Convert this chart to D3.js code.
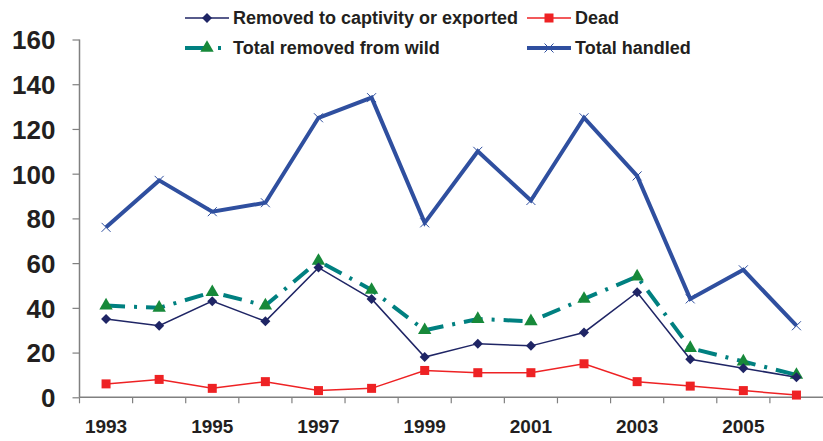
<!DOCTYPE html>
<html><head><meta charset="utf-8">
<script src="https://cdn.jsdelivr.net/npm/d3@7"></script>
<style>html,body{margin:0;padding:0;background:#fff;}svg{display:block;font-family:Arial,"Liberation Sans",sans-serif;}</style>
</head><body>
<svg id="c" width="823" height="441"></svg>
<script>
const years = [1993,1994,1995,1996,1997,1998,1999,2000,2001,2002,2003,2004,2005,2006];
const yearLabels = [1993,1995,1997,1999,2001,2003,2005];
const yTicks = [0,20,40,60,80,100,120,140,160];
const removedCaptivity = [35,32,43,34,58,44,18,24,23,29,47,17,13,9];
const dead = [6,8,4,7,3,4,12,11,11,15,7,5,3,1];
const totalRemovedWild = [41,40,47,41,61,48,30,35,34,44,54,22,16,10];
const totalHandled = [76,97,83,87,125,134,78,110,88,125,99,44,57,32];

const svg = d3.select("#c");
const pLeft = 79.5, pRight = 823, pTop = 39.5, pBottom = 397.3;
const x = d3.scaleBand().domain(years).range([pLeft, pRight]);
const y = d3.scaleLinear().domain([0,160]).range([pBottom, pTop]);
const cx = d => x(d) + x.bandwidth()/2;

// Y axis
const yAxis = d3.axisLeft(y).tickValues(yTicks).tickSize(7).tickPadding(17);
const gy = svg.append("g").attr("transform", `translate(${pLeft},0)`).call(yAxis);
gy.select(".domain").attr("stroke", "#808080").attr("stroke-width", 1.5).attr("d", `M0,${pTop}V${pBottom}`);
gy.selectAll(".tick line").attr("stroke", "#808080").attr("stroke-width", 1.2);
gy.selectAll(".tick text").attr("font-size", 26).attr("font-weight", "bold").attr("fill", "#231f20")
  .attr("font-family", "Arial, 'Liberation Sans', sans-serif").attr("dy", "0.36em");

// X axis
const gx = svg.append("g").attr("transform", `translate(0,${pBottom})`);
gx.append("line").attr("x1", pLeft).attr("x2", pRight).attr("y1", 0).attr("y2", 0).attr("stroke", "#808080").attr("stroke-width", 1.5);
gx.selectAll("line.tk").data(years).join("line").attr("class","tk")
  .attr("x1", d => x(d)).attr("x2", d => x(d)).attr("y1", 0).attr("y2", 6)
  .attr("stroke", "#808080").attr("stroke-width", 1.2);
gx.selectAll("text").data(yearLabels).join("text")
  .attr("x", d => cx(d)).attr("y", 36).attr("text-anchor", "middle")
  .attr("font-size", 19).attr("font-weight", "bold").attr("fill", "#231f20").text(d => d);

const line = d3.line().x((d,i) => cx(years[i])).y(d => y(d));

// Series
const series = [
  {name:"Total handled", data: totalHandled, color:"#2f4f9f", width:4, dash:null, marker:"x"},
  {name:"Total removed from wild", data: totalRemovedWild, color:"#008080", width:4, dash:"19,9,3,9", marker:"tri", mcolor:"#17893a"},
  {name:"Removed to captivity or exported", data: removedCaptivity, color:"#1f2565", width:1.5, dash:null, marker:"dia"},
  {name:"Dead", data: dead, color:"#ee2224", width:1.5, dash:null, marker:"sq"}
];

function drawMarker(g, type, px, py, s) {
  if (type === "x") {
    g.append("path").attr("d", `M${px-4.5},${py-4.5}L${px+4.5},${py+4.5}M${px-4.5},${py+4.5}L${px+4.5},${py-4.5}`)
      .attr("stroke", s.color).attr("stroke-width", 1).attr("fill", "none");
  } else if (type === "tri") {
    g.append("path").attr("d", d3.symbol().type(d3.symbolTriangle).size(78)()).attr("transform", `translate(${px},${py})`)
      .attr("fill", s.mcolor);
  } else if (type === "dia") {
    g.append("path").attr("d", `M${px},${py-5}L${px+5},${py}L${px},${py+5}L${px-5},${py}Z`).attr("fill", s.color);
  } else if (type === "sq") {
    g.append("rect").attr("x", px-4.5).attr("y", py-4.5).attr("width", 9).attr("height", 9).attr("fill", s.color);
  }
}

series.forEach(s => {
  const g = svg.append("g");
  g.append("path").datum(s.data).attr("d", line).attr("fill", "none")
    .attr("stroke", s.color).attr("stroke-width", s.width)
    .attr("stroke-dasharray", s.dash).attr("stroke-linejoin", "miter");
  s.data.forEach((v,i) => drawMarker(g, s.marker, cx(years[i]), y(v), s));
});

// Legend
const legendItems = [
  {s: series[2], lx: 185, ly: 18},
  {s: series[3], lx: 527, ly: 18},
  {s: series[1], lx: 185, ly: 48},
  {s: series[0], lx: 527, ly: 48}
];
legendItems.forEach(it => {
  const g = svg.append("g");
  const s = it.s;
  g.append("line").attr("x1", it.lx).attr("x2", it.lx+44).attr("y1", it.ly).attr("y2", it.ly)
    .attr("stroke", s.color).attr("stroke-width", s.width).attr("stroke-dasharray", s.dash ? "24,9,3,20" : null);
  drawMarker(g, s.marker, it.lx+22, it.ly, s);
  g.append("text").attr("x", it.lx+48).attr("y", it.ly).attr("dy", "0.36em")
    .attr("font-size", 18).attr("font-weight", "bold").attr("fill", "#231f20").text(s.name);
});
</script>
</body></html>
